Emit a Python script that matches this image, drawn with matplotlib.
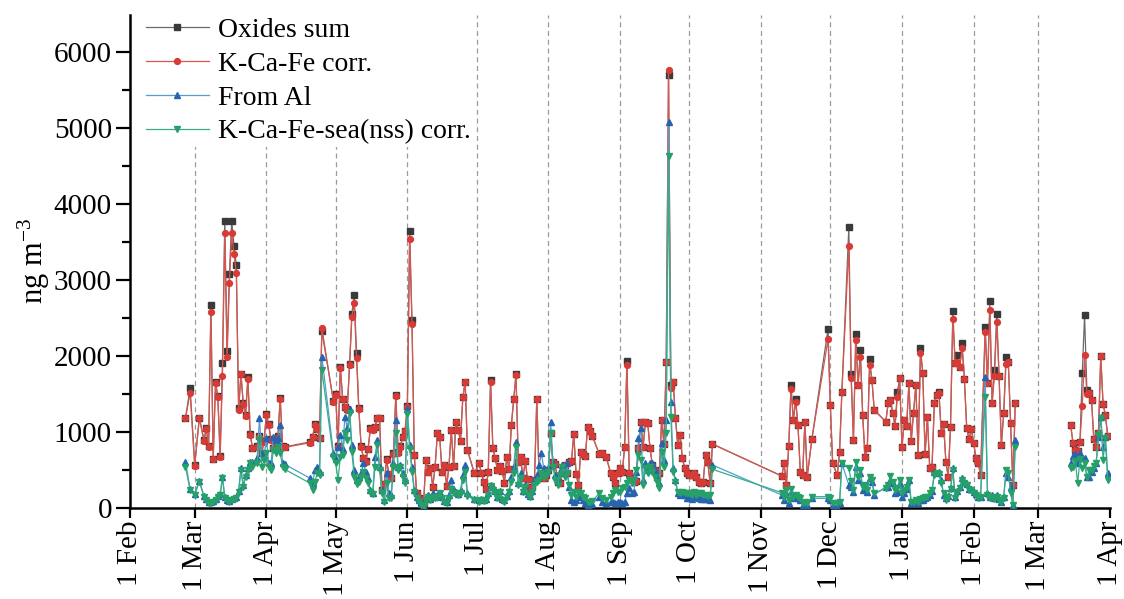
import numpy as np
import pandas as pd
import matplotlib
matplotlib.use("Agg")
import matplotlib.pyplot as plt
from matplotlib.ticker import MultipleLocator, FixedLocator, FuncFormatter
import matplotlib.dates as mdates

# ---------------- data ----------------
start_date = "2018-02-01"   # day 0
break_after_day = 383        # line not connected across the Feb-Mar 2019 gap

sample_day = [
    24, 26, 28, 30, 32, 33, 34, 35, 36, 37, 38, 39, 40, 41, 42, 43, 44, 45, 46, 47, 48, 49, 50, 51, 52, 53,
    55, 56, 57, 58, 59, 60, 61, 62, 63, 64, 65, 66, 67, 78, 79, 80, 81, 82, 83,
    88, 89, 90, 91, 92, 93, 94, 95, 96, 97, 98, 99, 100, 101, 102, 103, 104, 105, 106, 107, 108, 109, 110,
    111, 112, 113, 114, 115, 116, 117, 118, 119, 120, 121, 122,
    123, 124, 125, 126, 127, 128, 129, 130, 131, 132, 133, 134, 135, 136, 137, 138, 139, 140, 141, 142, 143,
    144, 145, 146, 149, 151, 152, 153, 154, 155, 156, 157, 158,
    159, 160, 161, 162, 163, 164, 165, 166, 167, 168, 169, 170, 171, 172, 173, 174, 175, 176, 177, 178, 179,
    180, 181, 182, 183, 184, 185, 186, 187, 188, 189, 190, 191, 192, 193, 194, 195, 196, 197, 198, 199, 200,
    203, 204, 206, 208, 209, 210, 211, 212, 213, 214, 215, 216, 217, 218, 219, 220, 221, 222, 223, 224, 225,
    226, 227, 228, 229, 230, 231, 232, 233, 234, 235, 236, 237, 238, 239, 240, 241, 242, 243, 244, 245, 246,
    247, 248, 249, 250, 251, 252,
    282, 283, 284, 285, 286, 287, 288, 289, 290, 291, 292, 293, 295, 302, 303, 304, 306, 307, 308, 311, 312,
    313, 314, 315, 316, 317, 318, 319, 320, 321, 322, 327, 328, 329, 330, 331, 332, 333, 334, 335, 336, 337,
    338, 339, 340, 341, 342, 343, 344, 345, 346, 347, 348, 349,
    350, 351, 352, 353, 354, 355, 356, 357, 358, 359, 360, 361, 362, 363, 364, 365, 366, 367, 368, 370, 371,
    372, 373, 374, 375, 376, 377, 378, 379, 380, 381, 382, 383,
    407, 408, 409, 410, 411, 412, 413, 414, 415, 416, 417, 418, 419, 420, 421, 422, 423,
]

oxides_sum = [
    1180, 1583, 570, 1190, 900, 1050, 815, 2670, 650, 1660, 1470, 685, 1904, 3781, 2070, 3080, 3780, 3450, 3200,
    1310, 1770, 1380, 1230, 1720, 975, 795,
    815, 950, 730, 885, 1240, 1105, 905, 795, 895, 950, 1450, 815, 805, 870, 940, 1100, 1045, 925, 2330,
    1410, 1500, 815, 1860, 1440, 1335, 1300, 1895, 2560, 2800, 2040, 1310, 815, 660, 615, 780, 1050, 1035,
    1070, 1190, 1190, 240, 320, 640, 450, 395, 720, 1490, 735, 815, 940, 1020, 1345, 3640, 2480,
    697, 193, 127, 80, 53, 632, 478, 522, 281, 544, 983, 930, 478, 566, 290, 544, 1026, 553, 1127, 1026, 886,
    1456, 1662, 763, 456, 588, 465, 346, 246, 478, 1680, 785, 654,
    500, 553, 491, 333, 675, 513, 1092, 1430, 1760, 601, 675, 390, 623, 377, 237, 281, 368, 1440, 412, 434, 390,
    434, 500, 983, 601, 579, 346, 333, 456, 566, 456, 601, 614, 974, 450, 303, 741, 711, 689, 1061, 1018, 952,
    711, 720, 675, 456, 412, 333, 456, 522, 478, 798, 1940, 456, 377, 346, 360, 785, 1136, 798, 1136, 1114, 785,
    566, 500, 412, 456, 1158, 842, 1925, 5700, 1620, 1662, 1180, 829, 961, 654, 522, 456, 434, 434, 456, 412, 346,
    325, 346, 697, 601, 325, 842,
    421, 588, 303, 816, 1620, 1158, 1430, 1092, 478, 434, 1136, 412, 904, 2356, 1356, 588, 434, 741, 1531, 3694, 1760,
    895, 2290, 1619, 2080, 1224, 675, 785, 1960, 1685, 1290, 1136, 1377, 1421, 1255, 1079, 1530, 1707, 798, 1158,
    1079, 1641, 886, 1246, 1619, 697, 2105, 1781, 707, 1202, 522, 544, 1377, 1487,
    1531, 983, 1107, 610, 412, 1070, 2593, 1912, 2010, 1860, 2170, 1697, 1057, 904, 1035, 860, 654, 588, 440, 2380,
    1641, 2720, 1378, 1820, 2560, 1741, 829, 1246, 1990, 1917, 1114, 303, 1382,
    1092, 851, 763, 755, 873, 1772, 2536, 1550, 1518, 1426, 904, 807, 992, 2000, 1368, 1224, 952,
]

kcafe_corr = [
    1180, 1517, 557, 1180, 886, 1035, 807, 2575, 641, 1641, 1456, 675, 1741, 3615, 1983, 2957, 3615, 3338, 3097,
    1290, 1760, 1369, 1211, 1698, 961, 785,
    807, 939, 720, 873, 1224, 1092, 895, 785, 886, 939, 1430, 807, 798, 860, 930, 1092, 1035, 917, 2373,
    1400, 1490, 807, 1846, 1430, 1325, 1290, 1882, 2518, 2702, 1978, 1299, 807, 654, 610, 772, 1040, 1026,
    1061, 1180, 1180, 237, 316, 632, 447, 390, 711, 1474, 729, 807, 930, 1013, 1333, 3536, 2421,
    697, 193, 127, 80, 53, 632, 478, 522, 281, 544, 983, 930, 478, 566, 290, 544, 1026, 553, 1127, 1026, 886,
    1456, 1662, 763, 456, 588, 465, 346, 246, 478, 1662, 785, 654,
    500, 553, 491, 333, 675, 513, 1092, 1430, 1750, 601, 675, 390, 623, 377, 237, 281, 368, 1430, 412, 434, 390,
    434, 500, 983, 601, 579, 346, 333, 456, 566, 456, 601, 614, 974, 450, 303, 741, 711, 689, 1061, 1018, 952,
    711, 720, 675, 456, 412, 333, 456, 522, 478, 798, 1882, 456, 377, 346, 360, 785, 1136, 798, 1136, 1114, 785,
    566, 500, 412, 456, 1158, 842, 1925, 5764, 1575, 1662, 1180, 829, 961, 654, 522, 456, 434, 434, 456, 412, 346,
    325, 346, 697, 601, 325, 842,
    421, 588, 303, 816, 1562, 1158, 1399, 1092, 478, 434, 1136, 412, 904, 2220, 1356, 588, 434, 741, 1531, 3448, 1707,
    895, 2211, 1619, 1991, 1224, 675, 785, 1882, 1685, 1290, 1136, 1377, 1421, 1255, 1079, 1465, 1707, 798, 1158,
    1079, 1641, 886, 1246, 1619, 697, 2036, 1781, 707, 1202, 522, 544, 1377, 1487,
    1509, 983, 1107, 610, 412, 1070, 2483, 1912, 1925, 1860, 2101, 1697, 1057, 904, 1035, 860, 654, 588, 440, 2320,
    1641, 2606, 1378, 1741, 2452, 1741, 829, 1246, 1895, 1917, 1114, 303, 1382,
    1092, 851, 763, 755, 873, 1338, 2013, 1496, 1518, 1426, 904, 807, 992, 2000, 1368, 1224, 952,
]

from_al = [
    610, 250, 190, 360, 160, 120, 75, 85, 95, 120, 160, 180, 410, 150, 110, 95, 115, 130, 150,
    230, 520, 300, 430, 520, 610, 600,
    654, 1180, 720, 675, 917, 588, 588, 930, 895, 917, 1092, 588, 575, 390, 325, 500, 544, 478, 1992,
    730, 650, 807, 961, 780, 1202, 1050, 1299, 830, 500, 370, 412, 456, 588, 478, 390, 237, 193,
    675, 895, 544, 237, 105, 456, 193, 171, 588, 1158, 544, 566, 456, 368, 1299, 830, 544,
    237, 149, 105, 50, 30, 127, 171, 120, 193, 140, 171, 200, 140, 95, 75, 171, 368, 237, 215, 190, 237,
    434, 566, 193, 120, 100, 120, 110, 115, 193, 303, 281, 220,
    140, 230, 120, 100, 160, 230, 412, 544, 873, 325, 456, 230, 300, 190, 160, 230, 368, 434, 566, 720, 522,
    478, 522, 1136, 588, 434, 368, 478, 566, 456, 588, 281, 105, 83, 105, 171, 149, 105, 61, 40, 53, 50,
    149, 83, 61, 83, 83, 61, 83, 83, 61, 83, 193, 259, 193, 215, 478, 917, 1048, 368, 588, 500, 588,
    588, 500, 412, 325, 851, 632, 1158, 5084, 1399, 522, 368, 193, 171, 193, 171, 127, 127, 114, 140, 149, 127,
    114, 114, 114, 114, 105, 566,
    171, 105, 193, 61, 211, 127, 149, 127, 105, 39, 61, 39, 127, 127, 105, 39, 18, 61, 588, 303, 272,
    215, 544, 368, 456, 237, 272, 215, 390, 346, 171, 281, 281, 368, 325, 193, 215, 325, 149, 193,
    246, 368, 61, 61, 83, 61, 100, 110, 130, 140, 170, 220, 478, 465,
    476, 368, 171, 127, 160, 260, 520, 140, 230, 270, 390, 340, 320, 250, 250, 210, 180, 140, 150, 1728,
    193, 149, 171, 127, 171, 114, 83, 149, 456, 412, 280, 39, 895,
    592, 680, 711, 592, 728, 654, 654, 412, 412, 478, 522, 588, 939, 1202, 807, 939, 456,
]

kcafe_sea_nss = [
    544, 237, 171, 346, 149, 105, 61, 70, 83, 110, 149, 171, 399, 136, 100, 83, 105, 120, 136,
    215, 500, 281, 412, 500, 588, 544,
    588, 900, 544, 632, 720, 544, 500, 763, 720, 807, 720, 544, 508, 325, 237, 346, 456, 434, 1816,
    675, 588, 368, 675, 700, 983, 900, 1255, 740, 412, 310, 346, 412, 478, 390, 325, 215, 180,
    544, 829, 500, 193, 83, 325, 127, 127, 544, 983, 500, 544, 412, 325, 1233, 780, 478,
    215, 127, 83, 40, 22, 105, 149, 105, 149, 127, 149, 193, 127, 83, 61, 127, 250, 193, 193, 171, 193,
    368, 478, 160, 105, 83, 105, 96, 105, 171, 290, 237, 193,
    127, 215, 105, 83, 149, 215, 346, 456, 807, 303, 390, 215, 281, 171, 141, 215, 303, 346, 368, 456, 412,
    434, 478, 983, 544, 368, 303, 434, 544, 412, 456, 303, 171, 215, 149, 215, 193, 149, 127, 83, 83, 90,
    193, 127, 105, 149, 193, 237, 215, 215, 259, 281, 325, 368, 325, 368, 500, 697, 632, 303, 522, 456, 544,
    478, 412, 346, 259, 741, 544, 983, 4632, 1202, 478, 346, 215, 193, 215, 193, 193, 193, 171, 215, 171, 193,
    193, 171, 171, 158, 171, 509,
    202, 149, 237, 105, 255, 149, 171, 149, 127, 61, 83, 61, 149, 149, 127, 61, 61, 83, 588, 522, 360,
    237, 610, 412, 500, 281, 303, 237, 412, 368, 193, 259, 303, 421, 346, 237, 259, 368, 193, 237,
    281, 368, 83, 83, 105, 83, 114, 127, 149, 149, 193, 237, 434, 456,
    447, 325, 193, 105, 149, 246, 500, 127, 215, 259, 368, 325, 303, 237, 237, 193, 171, 127, 140, 1465,
    171, 127, 149, 114, 149, 100, 83, 127, 500, 465, 193, 39, 807,
    522, 544, 623, 325, 640, 522, 588, 412, 500, 500, 553, 588, 961, 1180, 632, 917, 368,
]

series_labels = ["Oxides sum", "K-Ca-Fe corr.", "From Al", "K-Ca-Fe-sea(nss) corr."]
tick_months = pd.date_range("2018-02-01", "2019-04-01", freq="MS")
grid_months = pd.date_range("2018-03-01", "2019-03-01", freq="MS")

# ---------------- styling ----------------
plt.rcParams['font.family'] = ['Liberation Serif', 'DejaVu Serif']
plt.rcParams['mathtext.fontset'] = 'custom'
plt.rcParams['mathtext.rm'] = 'Liberation Serif'
plt.rcParams['mathtext.it'] = 'Liberation Serif:italic'

fig = plt.figure(figsize=(11.24, 5.99), dpi=100)
ax = fig.add_axes([130 / 1124, 1 - 508 / 599, 980 / 1124, 493 / 599])

dates = pd.Timestamp(start_date) + pd.to_timedelta(sample_day, unit="D")
days_arr = np.array(sample_day)
segs = [days_arr <= break_after_day, days_arr > break_after_day]

styles = [
    dict(color="#6a6a6a", marker="s", mfc="#3a3a3a", mec="#3a3a3a", ms=4.0),
    dict(color="#d9554f", marker="o", mfc="#d83a35", mec="#d83a35", ms=4.2),
    dict(color="#4f9fcf", marker="^", mfc="#2764b0", mec="#2764b0", ms=4.6),
    dict(color="#39ae86", marker="v", mfc="#25a069", mec="#25a069", ms=4.6),
]
all_series = [oxides_sum, kcafe_corr, from_al, kcafe_sea_nss]

for k, (vals, st, lab) in enumerate(zip(all_series, styles, series_labels)):
    v = np.array(vals, dtype=float)
    for j, m in enumerate(segs):
        ax.plot(dates[m], v[m], lw=0.9, label=lab if j == 0 else None,
                zorder=2 + k, **st)

for m in grid_months:
    ax.axvline(m, color="#9c9c9c", lw=0.9, ls=(0, (4, 3)), zorder=0)

ax.set_xlim(pd.Timestamp("2018-02-01"), pd.Timestamp("2019-04-01"))
ax.set_ylim(0, 6490)

ax.xaxis.set_major_locator(FixedLocator(mdates.date2num(tick_months)))
ax.xaxis.set_major_formatter(FuncFormatter(lambda x, p: "1 " + mdates.num2date(x).strftime("%b")))
ax.yaxis.set_major_locator(MultipleLocator(1000))
ax.yaxis.set_minor_locator(MultipleLocator(500))

for lab in ax.get_xticklabels():
    lab.set_rotation(90)
ax.tick_params(axis="x", which="major", labelsize=21, length=7, width=1.6, direction="out", pad=2)
ax.tick_params(axis="y", which="major", labelsize=21, length=10, width=1.6, direction="out", pad=3)
ax.tick_params(axis="y", which="minor", length=6, width=1.6, direction="out")

for s in ["top", "right"]:
    ax.spines[s].set_visible(False)
for s in ["left", "bottom"]:
    ax.spines[s].set_linewidth(1.8)

ax.set_ylabel("ng m$^{-3}$", fontsize=22, labelpad=1)

leg = ax.legend(loc="upper left", bbox_to_anchor=(0.013, 1.0), fontsize=20,
                frameon=True, facecolor="white", edgecolor="none", framealpha=1.0,
                handlelength=2.3, handletextpad=0.3, labelspacing=0.3,
                borderpad=0.1, borderaxespad=0.0)
leg.set_zorder(10)

fig.savefig("out.png", dpi=100)
